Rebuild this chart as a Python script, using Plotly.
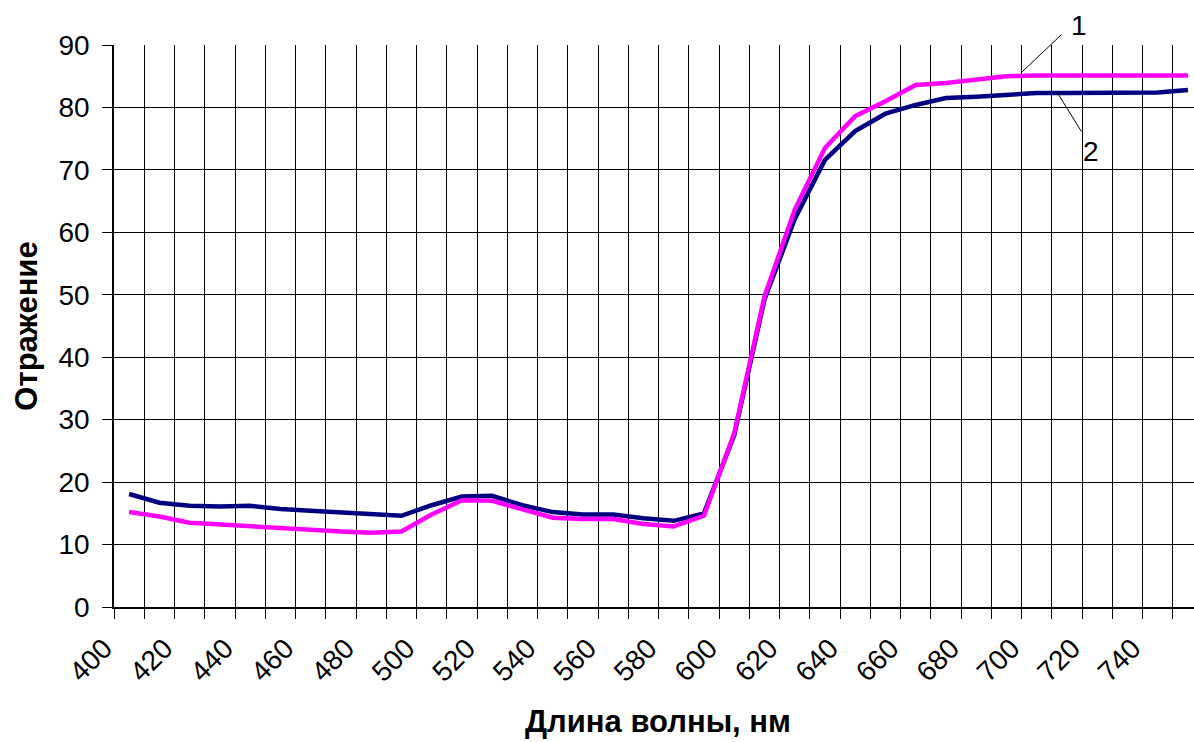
import plotly.graph_objects as go

wavelength = [400, 410, 420, 430, 440, 450, 460, 470, 480, 490,
              500, 510, 520, 530, 540, 550, 560, 570, 580, 590,
              600, 610, 620, 630, 640, 650, 660, 670, 680, 690,
              700, 710, 720, 730, 740, 750]

curve1 = [15.2, 14.5, 13.5, 13.2, 12.9, 12.7, 12.3, 12.1, 11.9, 12.1,
          14.8, 17.1, 17.0, 15.7, 14.3, 14.1, 14.1, 13.3, 12.9, 14.6,
          27.8, 49.7, 63.6, 73.5, 78.6, 81.0, 83.6, 83.9, 84.5, 85.0,
          85.1, 85.1, 85.1, 85.1, 85.1, 85.1]

curve2 = [18.1, 16.7, 16.2, 16.1, 16.2, 15.7, 15.4, 15.1, 14.8, 14.6,
          16.3, 17.7, 17.8, 16.3, 15.2, 14.8, 14.8, 14.2, 13.8, 15.0,
          27.5, 49.2, 62.1, 71.6, 76.2, 79.0, 80.4, 81.5, 81.7, 82.0,
          82.3, 82.3, 82.3, 82.3, 82.4, 82.8]

x_labels = [400, 420, 440, 460, 480, 500, 520, 540, 560, 580,
            600, 620, 640, 660, 680, 700, 720, 740]
x_bounds = [395, 405, 415, 425, 435, 445, 455, 465, 475, 485,
            495, 505, 515, 525, 535, 545, 555, 565, 575, 585,
            595, 605, 615, 625, 635, 645, 655, 665, 675, 685,
            695, 705, 715, 725, 735, 745, 755]
y_ticks = [0, 10, 20, 30, 40, 50, 60, 70, 80, 90]

FONT = "Liberation Sans, Arial, sans-serif"
TICK = 28
TITLE = 31

fig = go.Figure()
fig.add_trace(go.Scatter(x=wavelength, y=curve2, mode="lines",
                         line=dict(color="#000080", width=4.5), name="2"))
fig.add_trace(go.Scatter(x=wavelength, y=curve1, mode="lines",
                         line=dict(color="#FF00FF", width=4.5), name="1"))

fig.update_layout(
    width=1194, height=742,
    margin=dict(l=114, r=0, t=45, b=135, autoexpand=False),
    paper_bgcolor="white", plot_bgcolor="white",
    showlegend=False,
    font=dict(family=FONT, color="black", size=TICK),
)

fig.update_xaxes(
    range=[395, 752.0],
    tickmode="array", tickvals=x_labels, ticktext=[str(v) for v in x_labels],
    tickangle=-45, ticks="", showgrid=False,
    tickfont=dict(size=TICK, family=FONT),
    ticklabelstandoff=12, ticklabelshift=-25,
    minor=dict(tickmode="array", tickvals=x_bounds, ticks="outside", ticklen=10,
               tickcolor="black", tickwidth=1, showgrid=True,
               gridcolor="black", gridwidth=1),
    showline=True, linecolor="black", linewidth=1.5,
    zeroline=False,
)
fig.update_yaxes(
    range=[0, 90],
    tickmode="array", tickvals=y_ticks,
    ticks="outside", ticklen=10, tickcolor="black", tickwidth=1,
    showgrid=True, gridcolor="black", gridwidth=1,
    showline=True, linecolor="black", linewidth=1.5,
    zeroline=False,
    tickfont=dict(size=TICK, family=FONT),
    ticklabelstandoff=7,
    title=dict(text="<b>Отражение</b>", font=dict(size=TITLE, family=FONT), standoff=12),
)

# x-axis title
fig.add_annotation(x=0.5037, y=-0.2046, xref="paper", yref="paper",
                   text="<b>Длина волны, нм</b>", showarrow=False,
                   xanchor="center", yanchor="middle",
                   font=dict(size=TITLE, family=FONT))

# leader lines and labels for the curves
fig.add_annotation(x=695.2, y=85.7, ax=708.7, ay=91.9, xref="x", yref="y",
                   axref="x", ayref="y", text="", showarrow=True, arrowhead=0,
                   arrowwidth=1, arrowcolor="black")
fig.add_annotation(x=706.9, y=82.3, ax=715.1, ay=75.9, xref="x", yref="y",
                   axref="x", ayref="y", text="", showarrow=True, arrowhead=0,
                   arrowwidth=1, arrowcolor="black")
fig.add_annotation(x=714.0, y=93.2 / 90, xref="x", yref="paper", text="1",
                   xanchor="center", yanchor="middle",
                   showarrow=False, font=dict(size=TICK, family=FONT))
fig.add_annotation(x=718.0, y=73.0, xref="x", yref="y", text="2",
                   xanchor="center", yanchor="middle",
                   showarrow=False, font=dict(size=TICK, family=FONT))

fig.write_html("out.html",
               config={"displayModeBar": False},
               post_script="document.body.style.margin='0';"
                           "document.body.style.overflow='hidden';")
